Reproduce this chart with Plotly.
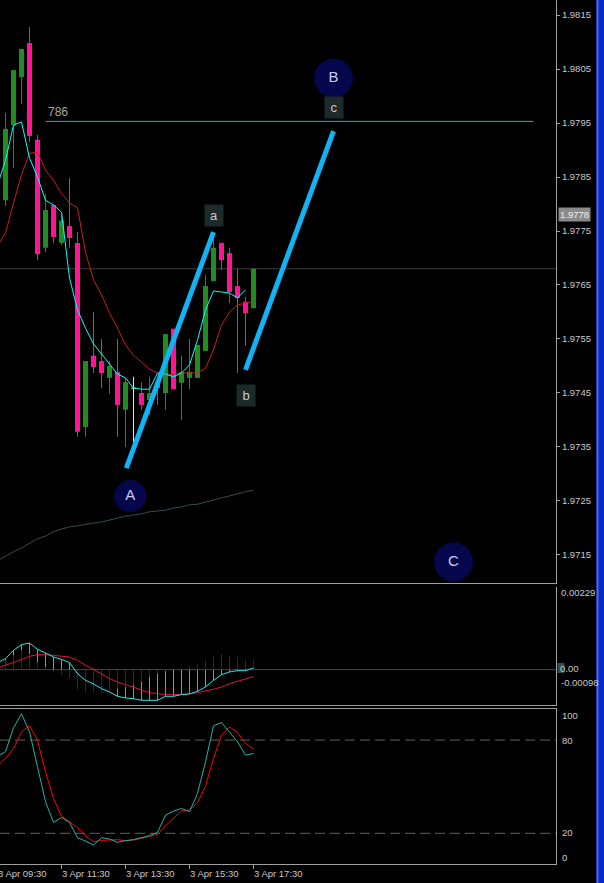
import plotly.graph_objects as go

W, H = 604, 883

# ---------------- data ----------------
time_labels = ["3 Apr 09:30", "3 Apr 11:30", "3 Apr 13:30", "3 Apr 15:30", "3 Apr 17:30"]
time_pos = [-1, 7, 15, 23, 31]

bar_idx = list(range(32))
open_ = [1.97807, 1.97946, 1.98035, 1.98098, 1.97919, 1.97719, 1.97798, 1.97728, 1.97759, 1.97728,
         1.97387, 1.97519, 1.97509, 1.97478, 1.97489, 1.97419, 1.97459, 1.97450, 1.97437, 1.97470,
         1.97450, 1.97569, 1.97469, 1.97478, 1.97478, 1.97528, 1.97657, 1.97728, 1.97709, 1.97648,
         1.97619, 1.97607]
high_ = [1.97969, 1.98048, 1.98087, 1.98128, 1.97928, 1.97819, 1.97798, 1.97780, 1.97848, 1.97748,
         1.97509, 1.97600, 1.97550, 1.97509, 1.97550, 1.97478, 1.97480, 1.97470, 1.97480, 1.97480,
         1.97559, 1.97569, 1.97519, 1.97550, 1.97539, 1.97669, 1.97743, 1.97728, 1.97719, 1.97680,
         1.97628, 1.97680]
low_ = [1.97796, 1.97867, 1.97985, 1.97915, 1.97696, 1.97711, 1.97728, 1.97724, 1.97719, 1.97369,
        1.97369, 1.97487, 1.97459, 1.97448, 1.97369, 1.97350, 1.97350, 1.97419, 1.97409, 1.97428,
        1.97419, 1.97457, 1.97400, 1.97457, 1.97478, 1.97528, 1.97657, 1.97678, 1.97617, 1.97487,
        1.97537, 1.97607]
close_ = [1.97939, 1.98048, 1.98087, 1.97926, 1.97707, 1.97789, 1.97739, 1.97769, 1.97737, 1.97378,
          1.97509, 1.97498, 1.97487, 1.97500, 1.97428, 1.97470, 1.97459, 1.97428, 1.97450, 1.97459,
          1.97559, 1.97457, 1.97489, 1.97489, 1.97539, 1.97648, 1.97719, 1.97696, 1.97637, 1.97626,
          1.97598, 1.97680]

line_idx = list(range(-1, 32))
ma_fast = [1.97835, 1.97881, 1.97946, 1.97952, 1.97885, 1.97850, 1.97807, 1.97798, 1.97785, 1.97663,
           1.97604, 1.97570, 1.97541, 1.97522, 1.97502, 1.97485, 1.97478, 1.97459, 1.97457, 1.97457,
           1.97487, 1.97485, 1.97480, 1.97487, 1.97502, 1.97548, 1.97604, 1.97639, 1.97637, 1.97635,
           1.97626, 1.97641]
ma_slow = [1.97724, 1.97746, 1.97802, 1.97854, 1.97894, 1.97896, 1.97863, 1.97844, 1.97819, 1.97802,
           1.97793, 1.97711, 1.97659, 1.97632, 1.97598, 1.97570, 1.97539, 1.97520, 1.97507, 1.97494,
           1.97487, 1.97483, 1.97485, 1.97487, 1.97487, 1.97487, 1.97496, 1.97530, 1.97576, 1.97600,
           1.97613, 1.97617, 1.97620]
ma_long = [1.97139, 1.97148, 1.97156, 1.97163, 1.97172, 1.97180, 1.97185, 1.97193, 1.97198, 1.97202,
           1.97204, 1.97207, 1.97209, 1.97211, 1.97215, 1.97219, 1.97222, 1.97224, 1.97226, 1.97230,
           1.97231, 1.97233, 1.97237, 1.97239, 1.97243, 1.97244, 1.97248, 1.97252, 1.97256, 1.97259,
           1.97263, 1.97267, 1.97270]

macd_main = [0.000194, 0.000305, 0.000536, 0.000693, 0.000739, 0.000563, 0.000462, 0.000351, 0.000286,
             0.000194, -0.000111, -0.000296, -0.000397, -0.000527, -0.000619, -0.000739, -0.000785,
             -0.000804, -0.00085, -0.00085, -0.00085, -0.000739, -0.000739, -0.000693, -0.000674,
             -0.0006, -0.00048, -0.000296, -0.000139, -0.000065, -0.000028, -0.000028, 0.000046]
macd_signal = [0.000046, 0.00012, 0.000194, 0.000277, 0.000369, 0.000416, 0.000416, 0.000397, 0.000379,
               0.000351, 0.000259, 0.00012, 0.000009, -0.000111, -0.000249, -0.000342, -0.000416,
               -0.000508, -0.000573, -0.000637, -0.000665, -0.000693, -0.000693, -0.000693, -0.000674,
               -0.000637, -0.0006, -0.000545, -0.00048, -0.000388, -0.000323, -0.000249, -0.000194]
macd_osma = [0.000259, 0.000397, 0.000536, 0.000443, 0.000212, 0.000074, -0.000065, -0.000157, -0.000231,
             -0.000545, -0.000619, -0.000637, -0.000665, -0.000637, -0.000527, -0.00048, -0.000416,
             -0.000342, -0.000203, -0.000111, -0.000046, 0.0, 0.000055, 0.000092, 0.000148, 0.000259,
             0.000369, 0.000425, 0.000397, 0.000351, 0.000259, 0.000259]
macd_range = [-0.00098, 0.00229]

stoch_k = [69.9, 72.5, 87.9, 96.9, 85.3, 61.7, 40.3, 27.0, 30.2, 27.0, 17.2, 15.0, 12.5, 17.2, 16.3,
           14.2, 15.3, 15.9, 17.2, 18.5, 20.6, 31.7, 34.3, 36.0, 33.9, 45.7, 66.0, 89.2, 91.3, 85.3,
           78.9, 70.3, 71.4]
stoch_d = [63.5, 68.2, 74.6, 85.3, 89.2, 79.9, 59.6, 42.5, 31.1, 27.5, 23.6, 18.5, 14.6, 15.5, 15.9,
           15.9, 15.3, 15.7, 16.8, 18.0, 19.3, 24.9, 29.6, 34.5, 35.0, 39.7, 50.4, 68.2, 83.2, 88.5,
           84.9, 77.8, 74.2]
stoch_levels = [80, 20]

price_ticks = [1.9715, 1.9725, 1.9735, 1.9745, 1.9755, 1.9765, 1.9775, 1.9785, 1.9795, 1.9805, 1.9815]
price_range = [1.970981, 1.981778]

wave1_idx = [15.1, 26.0]
wave1_px = [1.97311, 1.97748]
wave2_idx = [30.0, 41.0]
wave2_px = [1.97493, 1.97935]
fib_idx = [5.0, 66.0]
fib_level = 1.97953
fib_label = "786"
circle_text = ["A", "B", "C"]
circle_idx = [15.6, 41.0, 56.0]
circle_px = [1.97259, 1.98033, 1.97137]
circle_size = [32, 39, 39]
box_text = ["a", "b", "c"]
box_idx = [26.0, 30.0, 41.0]
box_px = [1.97779, 1.97445, 1.97978]
ask_label = 1.9778

# ---------------- figure ----------------
PLOT_W = 556
X0PX = 5.5          # pixel centre of bar 0
STEP = 8.0          # pixels per bar
XR = [-X0PX / STEP, (PLOT_W - X0PX) / STEP]
XD = [0, PLOT_W / W]

def py(p):
    return 1 - p / H

def xpaper(idx):
    return (X0PX + STEP * idx) / W

GREEN = "#228B22"
PINK = "#FF1493"
AXC = "#A0A0A0"
TXT = "#C8C8C8"
FONT = "Liberation Sans"

fig = go.Figure()

# candles
gx, gy, px_, pyy, dx, dy = [], [], [], [], [], []
g_base, g_h, g_x, p_base, p_h, p_x = [], [], [], [], [], []
for i, o, h, l, c in zip(bar_idx, open_, high_, low_, close_):
    if c > o:
        gx += [i, i, None]; gy += [l, h, None]
        g_x.append(i); g_base.append(o); g_h.append(c - o)
    elif c < o:
        px_ += [i, i, None]; pyy += [l, h, None]
        p_x.append(i); p_base.append(c); p_h.append(o - c)
    else:
        dx += [i, i, None, i - 0.3, i + 0.3, None]; dy += [l, h, None, o, o, None]

fig.add_trace(go.Scatter(x=gx, y=gy, mode="lines", line=dict(color=GREEN, width=1), xaxis="x", yaxis="y"))
fig.add_trace(go.Scatter(x=px_, y=pyy, mode="lines", line=dict(color=PINK, width=1), xaxis="x", yaxis="y"))
fig.add_trace(go.Bar(x=g_x, y=g_h, base=g_base, width=0.625, marker=dict(color=GREEN, line=dict(width=0)), xaxis="x", yaxis="y"))
fig.add_trace(go.Bar(x=p_x, y=p_h, base=p_base, width=0.625, marker=dict(color=PINK, line=dict(width=0)), xaxis="x", yaxis="y"))
fig.add_trace(go.Scatter(x=dx, y=dy, mode="lines", line=dict(color="#FFFF00", width=1), xaxis="x", yaxis="y"))

# moving averages
fig.add_trace(go.Scatter(x=line_idx, y=ma_long, mode="lines", line=dict(color="#2F4F4F", width=1), xaxis="x", yaxis="y"))
fig.add_trace(go.Scatter(x=line_idx, y=ma_slow, mode="lines", line=dict(color="#C81E1E", width=1), xaxis="x", yaxis="y"))
fig.add_trace(go.Scatter(x=line_idx[:len(ma_fast)], y=ma_fast, mode="lines", line=dict(color="#00FFFF", width=1), xaxis="x", yaxis="y"))

# fib line
fig.add_trace(go.Scatter(x=fib_idx, y=[fib_level, fib_level], mode="lines", line=dict(color="#2AA8E0", width=1), xaxis="x", yaxis="y"))

# wave lines
for wx, wy in [(wave1_idx, wave1_px), (wave2_idx, wave2_px)]:
    fig.add_trace(go.Scatter(x=wx, y=wy, mode="lines", line=dict(color="#10B4F5", width=5), xaxis="x", yaxis="y"))

# circles
fig.add_trace(go.Scatter(x=circle_idx, y=circle_px, mode="markers+text", text=circle_text,
                         textposition="middle center",
                         textfont=dict(family=FONT, size=15, color="#CCCCF0"),
                         marker=dict(size=circle_size, color="#08086C", line=dict(width=0)),
                         xaxis="x", yaxis="y"))

# MACD: histogram bars (1 px wide, library bars)
fig.add_trace(go.Bar(x=line_idx[1:], y=macd_main[1:], width=1.0 / STEP,
                     marker=dict(color="#26C0C0", line=dict(width=0)), xaxis="x2", yaxis="y2"))
fig.add_trace(go.Bar(x=bar_idx, y=macd_osma, width=1.0 / STEP,
                     marker=dict(color="#8B0000", line=dict(width=0)), xaxis="x2", yaxis="y2"))
fig.add_trace(go.Scatter(x=line_idx, y=macd_signal, mode="lines", line=dict(color="#DC143C", width=1), xaxis="x2", yaxis="y2"))
fig.add_trace(go.Scatter(x=line_idx, y=macd_main, mode="lines", line=dict(color="#20E8E8", width=1), xaxis="x2", yaxis="y2"))

# Stochastic
fig.add_trace(go.Scatter(x=line_idx, y=stoch_d, mode="lines", line=dict(color="#FF0000", width=1), xaxis="x3", yaxis="y3"))
fig.add_trace(go.Scatter(x=line_idx, y=stoch_k, mode="lines", line=dict(color="#20B2AA", width=1), xaxis="x3", yaxis="y3"))

xcommon = dict(range=XR, domain=XD, showgrid=False, zeroline=False, showticklabels=False,
               showline=True, linecolor=AXC, linewidth=1, fixedrange=True)
ycommon = dict(side="right", showgrid=False, zeroline=False, showline=True, linecolor=AXC,
               linewidth=1, fixedrange=True)

shapes = []
# bid line
shapes.append(dict(type="line", xref="x domain", yref="y", x0=0, x1=1, y0=close_[-1], y1=close_[-1],
                   line=dict(color="#3C3C3C", width=1), layer="below"))
# macd zero
shapes.append(dict(type="line", xref="x2 domain", yref="y2", x0=0, x1=1, y0=0, y1=0,
                   line=dict(color="#2F4F4F", width=1), layer="below"))
# stoch levels
for lv in stoch_levels:
    shapes.append(dict(type="line", xref="x3 domain", yref="y3", x0=0, x1=1, y0=lv, y1=lv,
                       line=dict(color="#606060", width=1, dash="10px,5px"), layer="below"))
# right blue border
shapes.append(dict(type="rect", xref="paper", yref="paper", x0=596.5 / W, x1=1, y0=0, y1=1,
                   fillcolor="#0A2AC8", line=dict(width=0)))
shapes.append(dict(type="rect", xref="paper", yref="paper", x0=596.5 / W, x1=598.5 / W, y0=0, y1=1,
                   fillcolor="#4A6AF0", line=dict(width=0)))
# small box behind "0" of macd label
shapes.append(dict(type="rect", xref="paper", yref="paper", x0=557.5 / W, x1=564.5 / W,
                   y0=py(673), y1=py(663), fillcolor="#2F4F4F", line=dict(width=0)))

ann = []
def lab(text, xpx, ypx, size=9.5, color=TXT):
    ann.append(dict(text=text, xref="paper", yref="paper", x=xpx / W, y=py(ypx), xanchor="left",
                    yanchor="middle", showarrow=False, font=dict(family=FONT, size=size, color=color)))

lab("0.00229", 559, 592)
lab("0.00", 558, 668)
lab("-0.00098", 559, 682)
lab("100", 560, 715)
lab("80", 560, 740)
lab("20", 560, 832)
lab("0", 560, 857)

# ask label
ann.append(dict(text="1.9778", xref="paper", yref="y", x=557.5 / W, y=ask_label, xanchor="left",
                yanchor="middle", showarrow=False, bgcolor="#8A8A8A", borderpad=1,
                font=dict(family=FONT, size=9.5, color="#EEEEEE")))

# time labels (left-aligned at their tick)
for t, p in zip(time_labels, time_pos):
    ann.append(dict(text=t, xref="paper", yref="paper", x=xpaper(p), y=py(873), xanchor="left",
                    yanchor="middle", xshift=-2, showarrow=False,
                    font=dict(family=FONT, size=9.5, color=TXT)))

# fib label
ann.append(dict(text=fib_label, xref="x", yref="y", x=fib_idx[0], y=1.97971, xanchor="left", yanchor="middle",
                showarrow=False, font=dict(family=FONT, size=12, color="#A8A8A8")))

# wave boxes
for t, bx, by in zip(box_text, box_idx, box_px):
    ann.append(dict(text=t, xref="x", yref="y", x=bx, y=by, xanchor="center", yanchor="middle",
                    width=16, height=19, bgcolor="#1C2A2A", showarrow=False, align="center", valign="middle",
                    font=dict(family=FONT, size=13, color="#C8C8D0")))

fig.update_layout(
    width=W, height=H, margin=dict(l=0, r=0, t=0, b=0),
    paper_bgcolor="black", plot_bgcolor="black", showlegend=False, barmode="overlay",
    xaxis=dict(**xcommon, anchor="y"),
    xaxis2=dict(**xcommon, anchor="y2"),
    xaxis3=dict(**xcommon, anchor="y3", mirror=True, ticks="outside", ticklen=4, tickcolor=AXC,
                tickvals=time_pos),
    yaxis=dict(**ycommon, anchor="x", domain=[py(583), 1], range=price_range,
               tickvals=price_ticks, ticktext=[f"{v:.4f}" for v in price_ticks],
               ticks="outside", ticklen=3, tickcolor=AXC,
               tickfont=dict(family=FONT, size=9.5, color=TXT)),
    yaxis2=dict(**ycommon, anchor="x2", domain=[py(705), py(587)], range=macd_range, showticklabels=False),
    yaxis3=dict(**ycommon, anchor="x3", domain=[py(864.4), py(709)], range=[0, 100], showticklabels=False),
    shapes=shapes, annotations=ann,
)

fig.write_html("out.html")
